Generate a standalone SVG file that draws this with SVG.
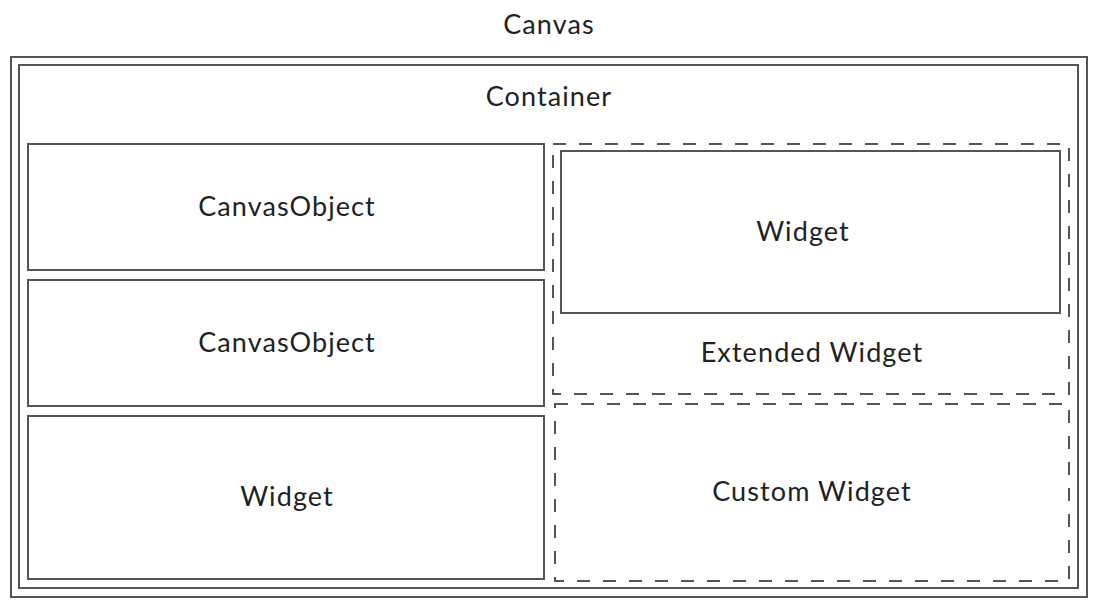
<svg xmlns="http://www.w3.org/2000/svg" width="1099" height="607" viewBox="0 0 1099 607">
<style>
.box{fill:none;stroke:#555;stroke-width:2}
.dash{fill:none;stroke:#555;stroke-width:2;stroke-dasharray:13 13}
.lbl{font-family:Lato,"Noto Sans",sans-serif;font-size:27px;letter-spacing:1.1px;fill:#222;text-anchor:middle}
</style>
<rect width="1099" height="607" fill="#fff"/>
<g id="canvas">
<rect class="box" x="11" y="57" width="1076" height="540"/>
<text class="lbl" x="549" y="34">Canvas</text>
</g>
<g id="container">
<rect class="box" x="19" y="65" width="1059" height="523"/>
<text class="lbl" x="549" y="106">Container</text>
</g>
<g id="canvasobject1">
<rect class="box" x="28" y="144" width="516" height="126"/>
<text class="lbl" x="287" y="216">CanvasObject</text>
</g>
<g id="canvasobject2">
<rect class="box" x="28" y="280" width="516" height="126"/>
<text class="lbl" x="287" y="352">CanvasObject</text>
</g>
<g id="widget1">
<rect class="box" x="28" y="416" width="516" height="163"/>
<text class="lbl" x="287" y="506">Widget</text>
</g>
<g id="extended-widget">
<rect class="dash" x="553" y="144" width="516" height="250"/>
<text class="lbl" x="812" y="362">Extended Widget</text>
</g>
<g id="widget2">
<rect class="box" x="561" y="151" width="499" height="162"/>
<text class="lbl" x="803" y="241">Widget</text>
</g>
<g id="custom-widget">
<rect class="dash" x="555" y="404" width="514" height="177"/>
<text class="lbl" x="812" y="501">Custom Widget</text>
</g>
<g id="connectors"/>
</svg>
